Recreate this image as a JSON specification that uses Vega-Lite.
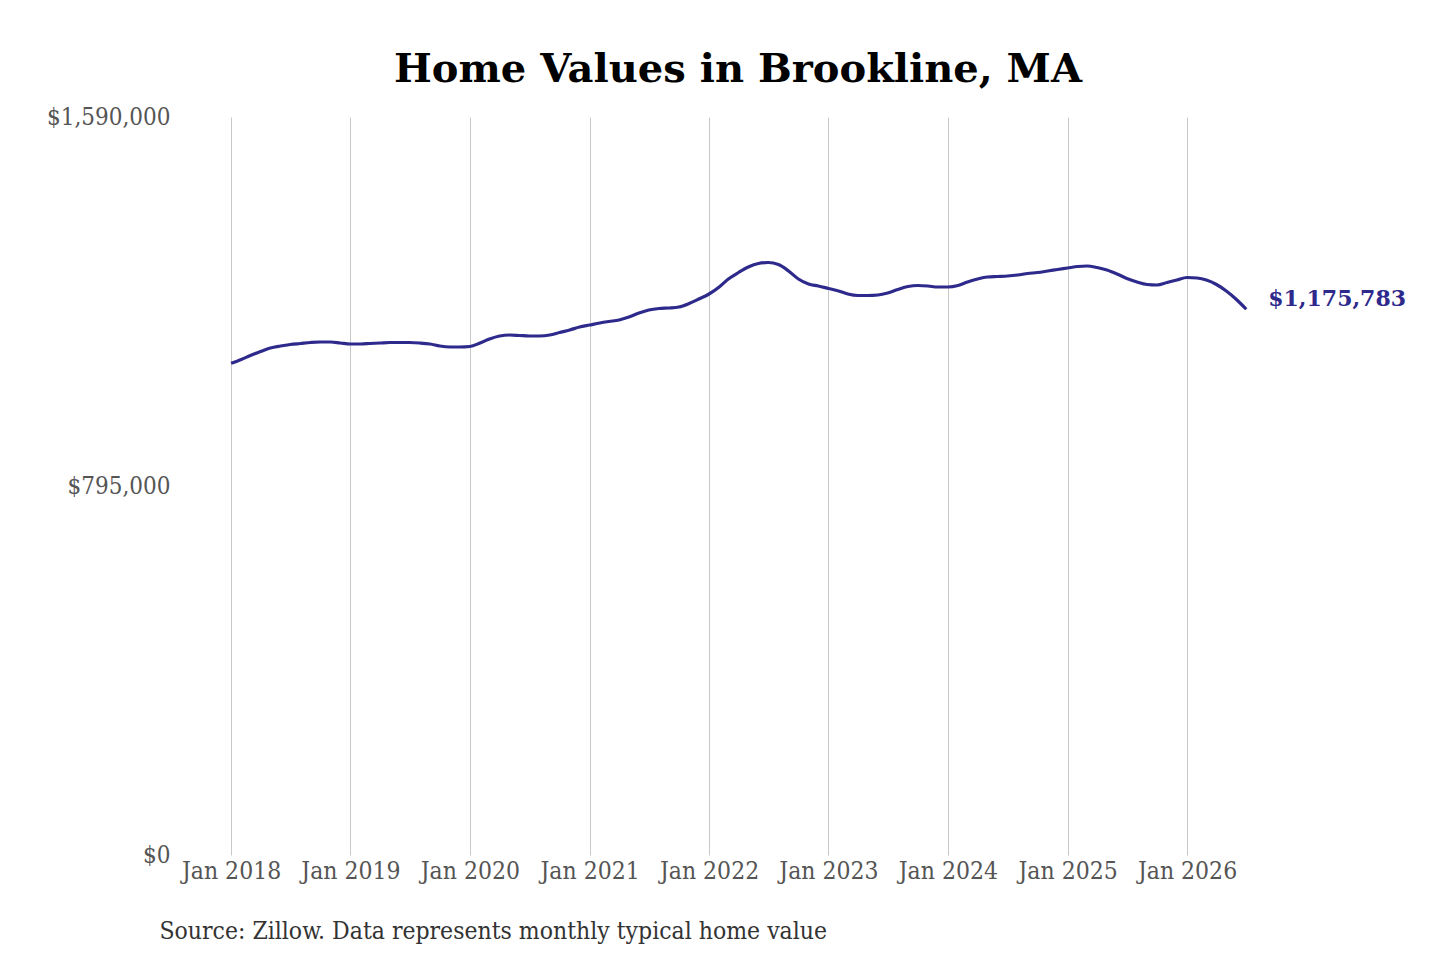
{
  "$schema": "https://vega.github.io/schema/vega-lite/v6.json",
  "autosize": {"type": "none"},
  "padding": {"left": 200, "top": 117, "right": 180, "bottom": 105},
  "width": 1060,
  "height": 738,
  "background": "white",
  "title": {
    "text": "Home Values in Brookline, MA",
    "font": "DejaVu Serif",
    "fontWeight": "bold",
    "fontSize": 40,
    "color": "black",
    "anchor": "middle",
    "dx": 8,
    "offset": 15
  },
  "data": {
    "values": [
      {"date": "2018-01-01", "value": 1059353},
      {"date": "2018-02-01", "value": 1067540},
      {"date": "2018-03-01", "value": 1076158},
      {"date": "2018-04-01", "value": 1084776},
      {"date": "2018-05-01", "value": 1092316},
      {"date": "2018-06-01", "value": 1096625},
      {"date": "2018-07-01", "value": 1099857},
      {"date": "2018-08-01", "value": 1102011},
      {"date": "2018-09-01", "value": 1104166},
      {"date": "2018-10-01", "value": 1105243},
      {"date": "2018-11-01", "value": 1105243},
      {"date": "2018-12-01", "value": 1103089},
      {"date": "2019-01-01", "value": 1100934},
      {"date": "2019-02-01", "value": 1100934},
      {"date": "2019-03-01", "value": 1102011},
      {"date": "2019-04-01", "value": 1103089},
      {"date": "2019-05-01", "value": 1104166},
      {"date": "2019-06-01", "value": 1104166},
      {"date": "2019-07-01", "value": 1104166},
      {"date": "2019-08-01", "value": 1103089},
      {"date": "2019-09-01", "value": 1100934},
      {"date": "2019-10-01", "value": 1096625},
      {"date": "2019-11-01", "value": 1094471},
      {"date": "2019-12-01", "value": 1094471},
      {"date": "2020-01-01", "value": 1095548},
      {"date": "2020-02-01", "value": 1103089},
      {"date": "2020-03-01", "value": 1111707},
      {"date": "2020-04-01", "value": 1118170},
      {"date": "2020-05-01", "value": 1120324},
      {"date": "2020-06-01", "value": 1119247},
      {"date": "2020-07-01", "value": 1118170},
      {"date": "2020-08-01", "value": 1118170},
      {"date": "2020-09-01", "value": 1120324},
      {"date": "2020-10-01", "value": 1125711},
      {"date": "2020-11-01", "value": 1131097},
      {"date": "2020-12-01", "value": 1137560},
      {"date": "2021-01-01", "value": 1141869},
      {"date": "2021-02-01", "value": 1146178},
      {"date": "2021-03-01", "value": 1149410},
      {"date": "2021-04-01", "value": 1152641},
      {"date": "2021-05-01", "value": 1159105},
      {"date": "2021-06-01", "value": 1167723},
      {"date": "2021-07-01", "value": 1174186},
      {"date": "2021-08-01", "value": 1177418},
      {"date": "2021-09-01", "value": 1178495},
      {"date": "2021-10-01", "value": 1180650},
      {"date": "2021-11-01", "value": 1188190},
      {"date": "2021-12-01", "value": 1197885},
      {"date": "2022-01-01", "value": 1208658},
      {"date": "2022-02-01", "value": 1223739},
      {"date": "2022-03-01", "value": 1240975},
      {"date": "2022-04-01", "value": 1254979},
      {"date": "2022-05-01", "value": 1266828},
      {"date": "2022-06-01", "value": 1274369},
      {"date": "2022-07-01", "value": 1276523},
      {"date": "2022-08-01", "value": 1272214},
      {"date": "2022-09-01", "value": 1258210},
      {"date": "2022-10-01", "value": 1240975},
      {"date": "2022-11-01", "value": 1230202},
      {"date": "2022-12-01", "value": 1225893},
      {"date": "2023-01-01", "value": 1220507},
      {"date": "2023-02-01", "value": 1215121},
      {"date": "2023-03-01", "value": 1208658},
      {"date": "2023-04-01", "value": 1205426},
      {"date": "2023-05-01", "value": 1205426},
      {"date": "2023-06-01", "value": 1206503},
      {"date": "2023-07-01", "value": 1210812},
      {"date": "2023-08-01", "value": 1218353},
      {"date": "2023-09-01", "value": 1224816},
      {"date": "2023-10-01", "value": 1226971},
      {"date": "2023-11-01", "value": 1225893},
      {"date": "2023-12-01", "value": 1223739},
      {"date": "2024-01-01", "value": 1223739},
      {"date": "2024-02-01", "value": 1226971},
      {"date": "2024-03-01", "value": 1234511},
      {"date": "2024-04-01", "value": 1240975},
      {"date": "2024-05-01", "value": 1245284},
      {"date": "2024-06-01", "value": 1246361},
      {"date": "2024-07-01", "value": 1247438},
      {"date": "2024-08-01", "value": 1249593},
      {"date": "2024-09-01", "value": 1252825},
      {"date": "2024-10-01", "value": 1254979},
      {"date": "2024-11-01", "value": 1258210},
      {"date": "2024-12-01", "value": 1261442},
      {"date": "2025-01-01", "value": 1264674},
      {"date": "2025-02-01", "value": 1267905},
      {"date": "2025-03-01", "value": 1268983},
      {"date": "2025-04-01", "value": 1265751},
      {"date": "2025-05-01", "value": 1260365},
      {"date": "2025-06-01", "value": 1251747},
      {"date": "2025-07-01", "value": 1242052},
      {"date": "2025-08-01", "value": 1234511},
      {"date": "2025-09-01", "value": 1229125},
      {"date": "2025-10-01", "value": 1228048},
      {"date": "2025-11-01", "value": 1233434},
      {"date": "2025-12-01", "value": 1238820},
      {"date": "2026-01-01", "value": 1244206},
      {"date": "2026-02-01", "value": 1243129},
      {"date": "2026-03-01", "value": 1238820},
      {"date": "2026-04-01", "value": 1229125},
      {"date": "2026-05-01", "value": 1215121},
      {"date": "2026-06-01", "value": 1196808},
      {"date": "2026-07-01", "value": 1175783, "last": true}
    ]
  },
  "encoding": {
    "x": {
      "field": "date",
      "type": "temporal",
      "timeUnit": "utcyearmonth",
      "scale": {
        "domain": [
          {"year": 2017, "month": 9, "date": 28, "utc": true},
          {"year": 2026, "month": 8, "date": 12, "utc": true}
        ]
      },
      "axis": {
        "format": "%b %Y",
        "tickCount": {"interval": "year", "step": 1},
        "grid": true,
        "gridColor": "#c8c8c8",
        "gridWidth": 1,
        "domain": false,
        "ticks": false,
        "labelPadding": 4,
        "labelFont": "DejaVu Serif Condensed",
        "labelFontSize": 24.5,
        "labelColor": "#555555",
        "title": "Source: Zillow. Data represents monthly typical home value",
        "titleFont": "DejaVu Serif Condensed",
        "titleFontSize": 24.5,
        "titleFontWeight": "normal",
        "titleColor": "#333333",
        "titleAnchor": "start",
        "titleAlign": "left",
        "titleBaseline": "middle",
        "titleX": -41,
        "titleY": 76
      }
    },
    "y": {
      "field": "value",
      "type": "quantitative",
      "scale": {"domain": [0, 1590000], "nice": false, "zero": true},
      "axis": {
        "values": [0, 795000, 1590000],
        "format": "$,d",
        "grid": false,
        "domain": false,
        "ticks": false,
        "labelPadding": 30,
        "labelFont": "DejaVu Serif Condensed",
        "labelFontSize": 24,
        "labelColor": "#555555",
        "title": null
      }
    }
  },
  "layer": [
    {
      "mark": {"type": "line", "color": "#2e2a8c", "strokeWidth": 3.2, "interpolate": "monotone"}
    },
    {
      "transform": [{"filter": "datum.last === true"}],
      "mark": {
        "type": "text",
        "align": "left",
        "baseline": "middle",
        "dx": 22,
        "dy": -10,
        "font": "DejaVu Serif",
        "fontWeight": "bold",
        "fontSize": 22,
        "color": "#2e2a8c"
      },
      "encoding": {
        "text": {"field": "value", "type": "quantitative", "format": "$,d"}
      }
    }
  ],
  "config": {
    "view": {"stroke": null}
  }
}
